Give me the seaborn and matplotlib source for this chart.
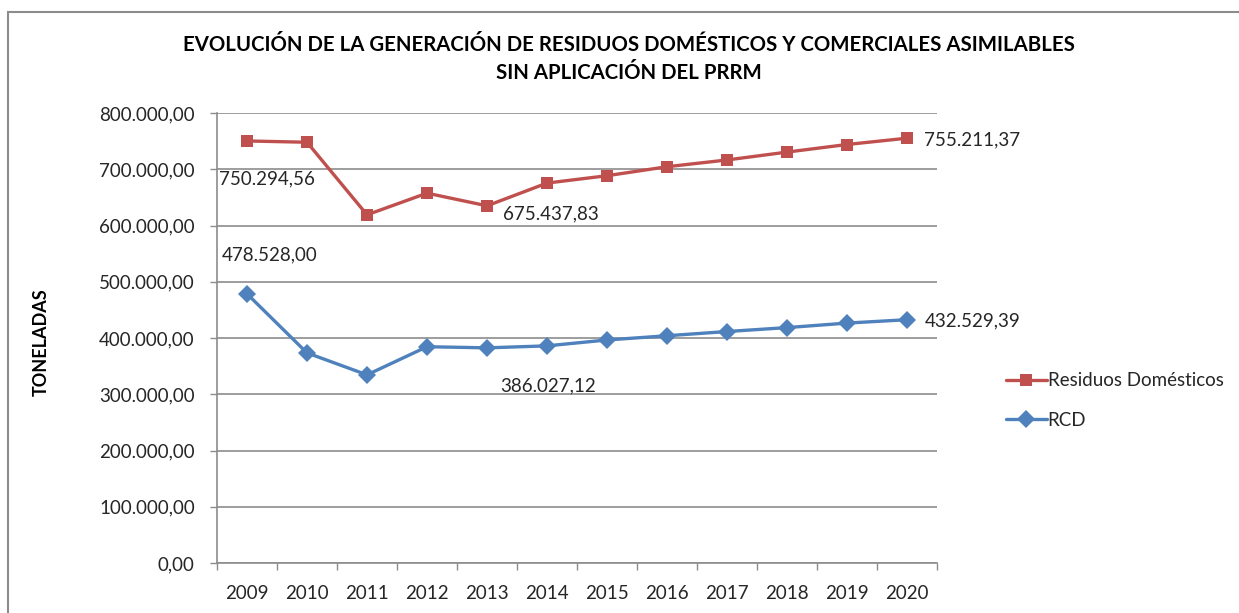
import matplotlib
matplotlib.use("Agg")
import matplotlib.pyplot as plt
import matplotlib.ticker as mticker
from matplotlib.patches import Rectangle
import seaborn as sns
import pandas as pd

years = ["2009", "2010", "2011", "2012", "2013", "2014", "2015", "2016", "2017", "2018", "2019", "2020"]
residuos = [750294.56, 748000, 619000, 657500, 635000, 675437.83, 688500, 704500, 716500, 730500, 744000, 755211.37]
rcd = [478528.00, 373500, 334500, 384500, 382500, 386027.12, 396500, 404000, 411500, 418500, 426500, 432529.39]
series_names = ["Residuos Domésticos", "RCD"]
title_lines = ["EVOLUCIÓN DE LA GENERACIÓN DE RESIDUOS DOMÉSTICOS Y COMERCIALES ASIMILABLES",
               "SIN APLICACIÓN DEL PRRM"]
y_label = "TONELADAS"
y_ticks = [0, 100000, 200000, 300000, 400000, 500000, 600000, 700000, 800000]

sns.set_theme(style="white")
FONT = "Lato"
plt.rcParams["font.family"] = [FONT, "DejaVu Sans"]

def es_fmt(v, pos=None):
    s = f"{v:,.2f}"
    return s.replace(",", "X").replace(".", ",").replace("X", ".")

df = pd.DataFrame({
    "Año": years * 2,
    "Toneladas": residuos + rcd,
    "Serie": [series_names[0]] * len(years) + [series_names[1]] * len(years),
})

RED = "#C0504D"
BLUE = "#4F81BD"
TXT = "#262626"
GRID = "#8C8C8C"

fig = plt.figure(figsize=(12.39, 6.13), dpi=100)
ax = fig.add_axes([217 / 1239, 1 - 563 / 613, (937 - 217) / 1239, (563 - 113) / 613])

sns.lineplot(data=df, x="Año", y="Toneladas", hue="Serie", style="Serie",
             palette={series_names[0]: RED, series_names[1]: BLUE},
             markers={series_names[0]: "s", series_names[1]: "D"},
             dashes=False, linewidth=2.4, markersize=9, markeredgewidth=0,
             sort=False, ax=ax, legend=True)

ax.set_xlim(-0.5, len(years) - 0.5)
ax.set_ylim(0, 800000)
ax.set_yticks(y_ticks)
ax.yaxis.set_major_formatter(mticker.FuncFormatter(es_fmt))
ax.set_xticks(range(len(years)))
ax.set_xticklabels(years)
ax.set_xticks([i - 0.5 for i in range(len(years) + 1)], minor=True)
ax.tick_params(axis="x", which="major", length=0, pad=16, labelsize=13.5, labelcolor=TXT)
ax.tick_params(axis="x", which="minor", length=5, width=1, color=GRID, direction="out", bottom=True)
ax.tick_params(axis="y", which="major", length=5, width=1, color=GRID, direction="out", left=True,
               pad=11, labelsize=13.5, labelcolor=TXT)
ax.grid(axis="y", color=GRID, linewidth=1.2)
ax.grid(axis="x", visible=False)
ax.set_axisbelow(True)
for side in ["top", "right"]:
    ax.spines[side].set_visible(False)
for side in ["left", "bottom"]:
    ax.spines[side].set_color(GRID)
    ax.spines[side].set_linewidth(1.2)
ax.set_xlabel("")
ax.set_ylabel("")

# data labels
label_specs = [
    (residuos, 0, (-20, -27)),
    (rcd, 0, (-18, 28)),
    (residuos, 5, (-32, -22)),
    (rcd, 5, (-34, -29)),
    (residuos, 11, (12, -1)),
    (rcd, 11, (13, -1)),
]
for vals, i, off in label_specs:
    ax.annotate(es_fmt(vals[i]), xy=(i, vals[i]), xytext=off, textcoords="offset points",
                ha="left", va="center", fontsize=13.5, color=TXT, annotation_clip=False)

# legend
handles, labels = ax.get_legend_handles_labels()
leg = ax.legend(handles, labels, loc="upper left", bbox_to_anchor=(998 / 1239, 1 - 365 / 613),
                bbox_transform=fig.transFigure, frameon=False, fontsize=13.5,
                handlelength=2.2, handletextpad=0.05, labelspacing=1.2, borderaxespad=0)
for t in leg.get_texts():
    t.set_color(TXT)

# title
fig.text(629 / 1239, 1 - 45 / 613, title_lines[0], ha="center", va="center",
         fontsize=14.7, fontweight="bold", color="black")
fig.text(629 / 1239, 1 - 73 / 613, title_lines[1], ha="center", va="center",
         fontsize=14.7, fontweight="bold", color="black")
fig.text(41 / 1239, 1 - 342 / 613, y_label, ha="center", va="center", rotation=90,
         fontsize=13, fontweight="bold", color="black")

# chart border
fig.patches.append(Rectangle((8 / 1239, -0.1), 1.2, 1 - 12 / 613 + 0.1, transform=fig.transFigure,
                             fill=False, edgecolor="#8C8C8C", linewidth=1.5, clip_on=False))

fig.savefig("out.png", dpi=100, facecolor="white")
